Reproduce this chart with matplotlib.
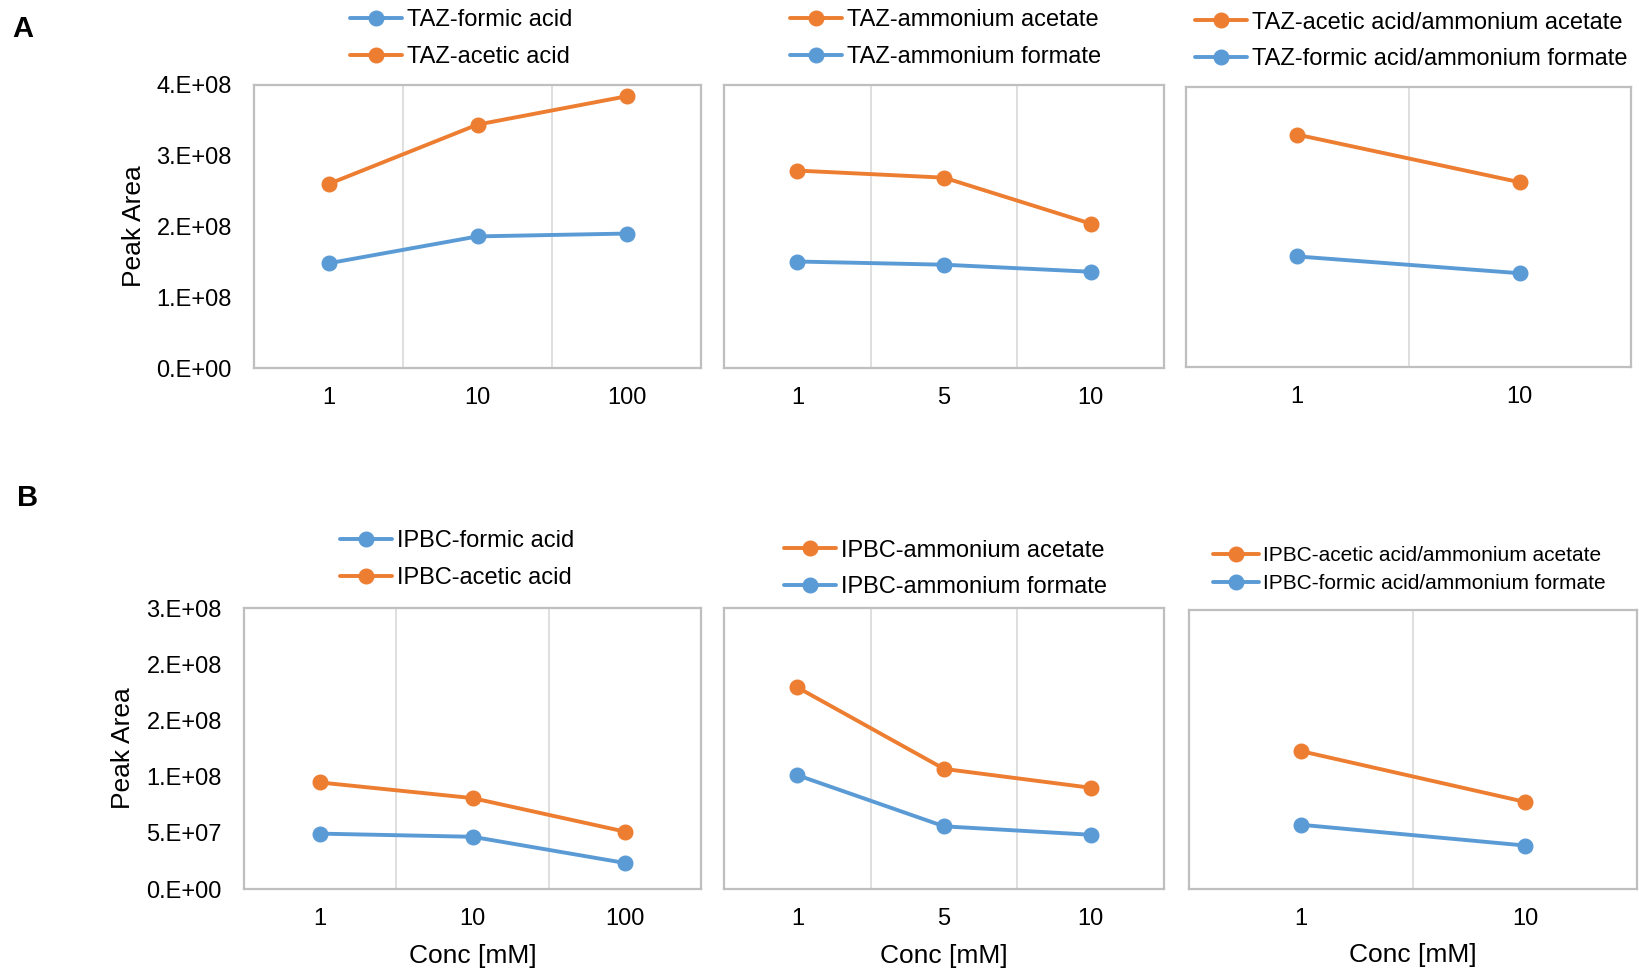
import matplotlib
matplotlib.use("Agg")
import matplotlib.pyplot as plt
import numpy as np


# data

taz_conc_acid = ["1", "10", "100"]
taz_formic_acid = [1.48e8, 1.86e8, 1.90e8]
taz_acetic_acid = [2.60e8, 3.44e8, 3.84e8]

taz_conc_salt = ["1", "5", "10"]
taz_ammonium_acetate = [2.79e8, 2.69e8, 2.04e8]
taz_ammonium_formate = [1.505e8, 1.46e8, 1.36e8]

taz_conc_mix = ["1", "10"]
taz_mix_acetate = [3.32e8, 2.64e8]
taz_mix_formate = [1.58e8, 1.34e8]

ipbc_conc_acid = ["1", "10", "100"]
ipbc_formic_acid = [0.493e8, 0.465e8, 0.232e8]
ipbc_acetic_acid = [0.948e8, 0.809e8, 0.511e8]

ipbc_conc_salt = ["1", "5", "10"]
ipbc_ammonium_acetate = [1.794e8, 1.069e8, 0.901e8]
ipbc_ammonium_formate = [1.013e8, 0.558e8, 0.483e8]

ipbc_conc_mix = ["1", "10"]
ipbc_mix_acetate = [1.236e8, 0.781e8]
ipbc_mix_formate = [0.576e8, 0.39e8]

taz_yticks = [0, 1e8, 2e8, 3e8, 4e8]
taz_ytick_labels = ["0.E+00", "1.E+08", "2.E+08", "3.E+08", "4.E+08"]
ipbc_yticks = [0, 5e7, 1e8, 1.5e8, 2e8, 2.5e8]
ipbc_ytick_labels = ["0.E+00", "5.E+07", "1.E+08", "2.E+08", "2.E+08", "3.E+08"]


#style

plt.rcParams["font.family"] = ["Liberation Sans", "DejaVu Sans"]
plt.rcParams["font.size"] = 17

blue = "#5B9BD5"
orange = "#ED7D31"
frame_col = "#BFBFBF"
grid_col = "#D9D9D9"

fig = plt.figure(figsize=(16.4, 9.71), dpi=100)


def make_panel(rect, cats, series, ylim, yticks=None, ylabels=None,
               ylab_x=None, xlabel=False):
    ax = fig.add_axes(rect)
    x = np.arange(len(cats))
    for vals, col, lab in series:
        ax.plot(x, vals, color=col, lw=2.8, marker="o", ms=10.5, label=lab,
                solid_capstyle="round")
    ax.set_xlim(-0.5, len(cats) - 0.5)
    ax.set_ylim(*ylim)
    ax.set_xticks(x)
    ax.set_xticklabels(cats)
    # gridlines between categories like excel
    ax.set_xticks(x[:-1] + 0.5, minor=True)
    ax.grid(True, which="minor", axis="x", color=grid_col, lw=1.2)
    ax.tick_params(which="both", length=0)
    ax.tick_params(axis="x", pad=14)
    if yticks is not None:
        ax.set_yticks(yticks)
        ax.set_yticklabels(ylabels)
        ax.tick_params(axis="y", pad=16)
        ax.set_ylabel("Peak Area", fontsize=19, va="center")
        ax.yaxis.set_label_coords(ylab_x, 0.5)
    else:
        ax.set_yticks([])
    for s in ax.spines.values():
        s.set_color(frame_col)
        s.set_linewidth(1.6)
    if xlabel:
        ax.set_xlabel("Conc [mM]", fontsize=19)
        ax.xaxis.set_label_coords(0.5, -0.195)
    return ax


def add_legend(ax, x_px, y_px, fs=17, spacing=0.62):
    ax.legend(loc="center left", bbox_to_anchor=(x_px / 1640, 1 - y_px / 971),
              bbox_transform=fig.transFigure, frameon=False, fontsize=fs,
              handlelength=2.2, handletextpad=0.22, labelspacing=spacing,
              borderpad=0, borderaxespad=0)


# row A : TAZ
ax = make_panel([0.1549, 0.621, 0.2726, 0.2915], taz_conc_acid,
                [(taz_formic_acid, blue, "TAZ-formic acid"),
                 (taz_acetic_acid, orange, "TAZ-acetic acid")],
                (0, 4e8), taz_yticks, taz_ytick_labels, ylab_x=-0.268)
add_legend(ax, 350, 38.5)

ax = make_panel([0.4415, 0.621, 0.2683, 0.2915], taz_conc_salt,
                [(taz_ammonium_acetate, orange, "TAZ-ammonium acetate"),
                 (taz_ammonium_formate, blue, "TAZ-ammonium formate")],
                (0, 4e8))
add_legend(ax, 790, 38.5)

ax = make_panel([0.7232, 0.622, 0.2713, 0.2884], taz_conc_mix,
                [(taz_mix_acetate, orange, "TAZ-acetic acid/ammonium acetate"),
                 (taz_mix_formate, blue, "TAZ-formic acid/ammonium formate")],
                (0, 4e8))
add_legend(ax, 1195, 41)

# row B : IPBC
ax = make_panel([0.1488, 0.0844, 0.2787, 0.2894], ipbc_conc_acid,
                [(ipbc_formic_acid, blue, "IPBC-formic acid"),
                 (ipbc_acetic_acid, orange, "IPBC-acetic acid")],
                (0, 2.5e8), ipbc_yticks, ipbc_ytick_labels, ylab_x=-0.265,
                xlabel=True)
add_legend(ax, 340, 559.5)

ax = make_panel([0.4415, 0.0844, 0.2683, 0.2894], ipbc_conc_salt,
                [(ipbc_ammonium_acetate, orange, "IPBC-ammonium acetate"),
                 (ipbc_ammonium_formate, blue, "IPBC-ammonium formate")],
                (0, 2.5e8), xlabel=True)
add_legend(ax, 784, 569)

ax = make_panel([0.725, 0.0844, 0.2732, 0.2873], ipbc_conc_mix,
                [(ipbc_mix_acetate, orange, "IPBC-acetic acid/ammonium acetate"),
                 (ipbc_mix_formate, blue, "IPBC-formic acid/ammonium formate")],
                (0, 2.5e8), xlabel=True)
add_legend(ax, 1213, 569.5, fs=15, spacing=0.45)

# panel letters
fig.text(23 / 1640, 1 - 29 / 971, "A", fontsize=21, fontweight="bold",
         ha="center", va="center")
fig.text(28 / 1640, 1 - 498 / 971, "B", fontsize=21, fontweight="bold",
         ha="center", va="center")

plt.savefig("out.png", dpi=100)
